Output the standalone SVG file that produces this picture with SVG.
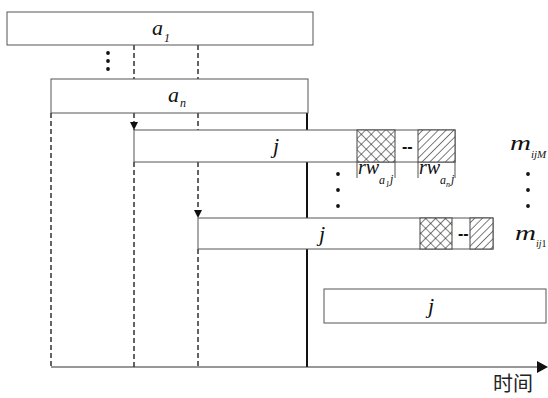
<svg xmlns="http://www.w3.org/2000/svg" width="548" height="398" viewBox="0 0 548 398">
<style>
.box{fill:#fff;stroke:#555;stroke-width:1}
.lbl{font-family:"Liberation Serif","Times New Roman",serif;font-style:italic;fill:#111}
.dash{stroke:#111;stroke-width:1.3;stroke-dasharray:5,3;fill:none}
.tick{stroke:#555;stroke-width:1}
.dot{fill:#111}
.sep{font-family:"Liberation Sans",Arial,sans-serif;font-weight:bold;font-size:16px;fill:#111}
</style>
<defs>
<pattern id="cross" width="7" height="7" patternUnits="userSpaceOnUse" patternTransform="rotate(45)">
<rect width="7" height="7" fill="#fff"/>
<path d="M0 0H7M0 0V7" stroke="#111" stroke-width="1.1"/>
</pattern>
<pattern id="diag" width="5.5" height="5.5" patternUnits="userSpaceOnUse" patternTransform="rotate(45)">
<rect width="5.5" height="5.5" fill="#fff"/>
<path d="M0 0V5.5" stroke="#111" stroke-width="1.1"/>
</pattern>
<marker id="ah" viewBox="0 0 10 10" refX="10" refY="5" markerWidth="8" markerHeight="9" markerUnits="userSpaceOnUse" orient="auto">
<path d="M0 0L10 5L0 10Z" fill="#111"/>
</marker>
</defs>

<g id="connectors">
<line class="dash" x1="51" y1="113" x2="51" y2="367"/>
<line class="dash" x1="134" y1="45" x2="134" y2="79"/>
<line class="dash" x1="134" y1="113" x2="134" y2="130" marker-end="url(#ah)"/>
<line class="dash" x1="134" y1="162" x2="134" y2="367"/>
<line class="dash" x1="198" y1="45" x2="198" y2="79"/>
<line class="dash" x1="198" y1="113" x2="198" y2="130"/>
<line class="dash" x1="198" y1="162" x2="198" y2="218" marker-end="url(#ah)"/>
<line class="dash" x1="198" y1="249" x2="198" y2="367"/>
<line x1="307" y1="113" x2="307" y2="367" stroke="#111" stroke-width="2"/>
<line x1="51" y1="367" x2="538" y2="367" stroke="#333" stroke-width="1.2"/>
<path d="M537 361L548 367L537 373Z" fill="#111"/>
</g>

<g id="node-a1">
<rect class="box" x="7" y="12" width="306" height="33"/>
<text class="lbl" x="152" y="35" font-size="22">a</text>
<text class="lbl" x="164" y="42" font-size="12" font-style="normal">1</text>
</g>

<g id="dots-a">
<circle class="dot" cx="108" cy="53" r="1.9"/>
<circle class="dot" cx="108" cy="61" r="1.9"/>
<circle class="dot" cx="108" cy="69" r="1.9"/>
</g>

<g id="node-an">
<rect class="box" x="51" y="79" width="257" height="34"/>
<text class="lbl" x="168" y="102" font-size="22">a</text>
<text class="lbl" x="180" y="107" font-size="12">n</text>
</g>

<g id="node-j-M">
<rect class="box" x="134" y="130" width="321" height="32"/>
<rect x="357" y="130" width="38" height="32" fill="url(#cross)" stroke="#444" stroke-width="1"/>
<rect x="418" y="130" width="37" height="32" fill="url(#diag)" stroke="#444" stroke-width="1"/>
<text class="sep" x="402" y="152">--</text>
<text class="lbl" x="273" y="153" font-size="22">j</text>
<line class="tick" x1="357" y1="162" x2="357" y2="178"/>
<line class="tick" x1="395" y1="162" x2="395" y2="178"/>
<line class="tick" x1="418" y1="162" x2="418" y2="178"/>
<line class="tick" x1="455" y1="162" x2="455" y2="178"/>
<text class="lbl" x="358" y="174" font-size="20">rw</text>
<text class="lbl" x="379" y="184" font-size="12">a</text>
<text class="lbl" x="385.5" y="187" font-size="8" font-style="normal">1</text>
<text class="lbl" x="390" y="183" font-size="12">j</text>
<text class="lbl" x="419" y="174" font-size="20">rw</text>
<text class="lbl" x="440" y="184" font-size="12">a</text>
<text class="lbl" x="446" y="187" font-size="8">n</text>
<text class="lbl" x="451" y="183" font-size="12">j</text>
</g>

<g id="label-mijM">
<text class="lbl" x="510" y="150" font-size="20" textLength="21" lengthAdjust="spacingAndGlyphs">m</text>
<text class="lbl" x="531" y="158" font-size="11">ijM</text>
</g>

<g id="dots-mid">
<circle class="dot" cx="338" cy="174" r="1.9"/>
<circle class="dot" cx="338" cy="190" r="1.9"/>
<circle class="dot" cx="338" cy="206" r="1.9"/>
<circle class="dot" cx="528" cy="174" r="1.9"/>
<circle class="dot" cx="528" cy="190" r="1.9"/>
<circle class="dot" cx="528" cy="206" r="1.9"/>
</g>

<g id="node-j-1">
<rect class="box" x="198" y="218" width="295" height="31"/>
<rect x="420" y="218" width="32" height="31" fill="url(#cross)" stroke="#444" stroke-width="1"/>
<rect x="470" y="218" width="23" height="31" fill="url(#diag)" stroke="#444" stroke-width="1"/>
<text class="sep" x="458" y="239">--</text>
<text class="lbl" x="319" y="241" font-size="22">j</text>
</g>

<g id="label-mij1">
<text class="lbl" x="515" y="240" font-size="20" textLength="21" lengthAdjust="spacingAndGlyphs">m</text>
<text class="lbl" x="536" y="247" font-size="10">ij<tspan font-style="normal">1</tspan></text>
</g>

<g id="node-j-3">
<rect class="box" x="324" y="289" width="222" height="34" stroke="#777"/>
<text class="lbl" x="428" y="313" font-size="22">j</text>
</g>

<g id="axis-label">
<text x="493" y="391" font-family="Noto Sans CJK SC,sans-serif" font-size="20" fill="#222">时间</text>
</g>
</svg>
